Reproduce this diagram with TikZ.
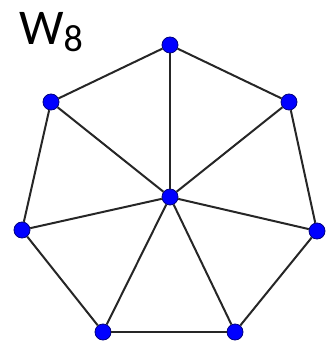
\documentclass[tikz,border=0pt]{standalone}
\usepackage{fontspec}
\setmainfont{Carlito}
\begin{document}
\begin{tikzpicture}[x=1pt,y=-1pt,
  vtx/.style={circle,draw=blue!50!black,line width=0.8pt,fill=blue,minimum size=16pt,inner sep=0pt},
  edge/.style={line width=2pt,black!85}]
\useasboundingbox (0,0) rectangle (325,344);
\node[anchor=base west,inner sep=0pt] (title) at (19,45) {\fontsize{50}{50}\selectfont W\raisebox{-7pt}{\fontsize{38}{38}\selectfont 8}};
\node[vtx] (c) at (170,197) {};
\node[vtx] (v1) at (170,45) {};
\node[vtx] (v2) at (289,102) {};
\node[vtx] (v3) at (317,231) {};
\node[vtx] (v4) at (235,332) {};
\node[vtx] (v5) at (103,332) {};
\node[vtx] (v6) at (22,230) {};
\node[vtx] (v7) at (51,102) {};
\draw[edge] (v1) -- (v2);
\draw[edge] (v2) -- (v3);
\draw[edge] (v3) -- (v4);
\draw[edge] (v4) -- (v5);
\draw[edge] (v5) -- (v6);
\draw[edge] (v6) -- (v7);
\draw[edge] (v7) -- (v1);
\foreach \i in {1,...,7} \draw[edge] (c) -- (v\i);
\end{tikzpicture}
\end{document}
